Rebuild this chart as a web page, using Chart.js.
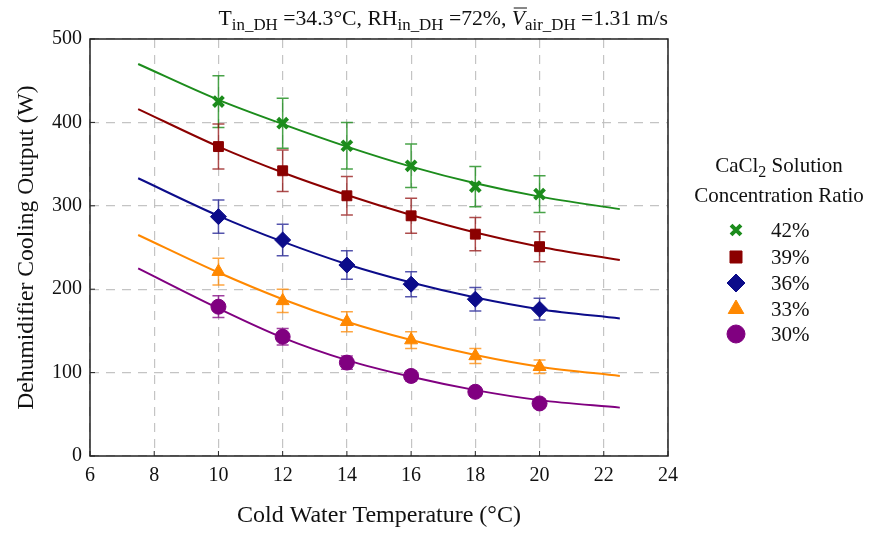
<!DOCTYPE html>
<html>
<head>
<meta charset="utf-8">
<script src="https://cdn.jsdelivr.net/npm/chart.js@4.4.1/dist/chart.umd.min.js"></script>
<style>
html,body{margin:0;padding:0;background:#fff;}
#wrap{width:873px;height:534px;}
</style>
</head>
<body>
<div id="wrap"><canvas id="c" width="873" height="534"></canvas></div>
<script>
// ---- data ----
const xValues = [10, 12, 14, 16, 18, 20];
const seriesLabels = ['42%', '39%', '36%', '33%', '30%'];
const output42 = [425, 399, 372, 348, 323, 314];
const output39 = [371, 342, 312, 288, 266, 251];
const output36 = [287, 259, 229, 206, 188, 176];
const output33 = [221, 186, 161, 139, 120, 107];
const output30 = [179, 143, 112, 96, 77, 63];
const err42 = [31, 30, 28, 26, 24, 22];
const err39 = [27, 25, 23, 21, 20, 18];
const err36 = [20, 19, 17, 15, 14, 13];
const err33 = [16, 14, 12, 10, 9, 8];
const err30 = [13, 10, 8, 6, 5, 5];
const fitX = [7.5, 10, 12, 14, 16, 18, 20, 22.5];
const fit42 = [470, 427, 398, 371, 347, 327, 311, 296];
const fit39 = [416, 371, 340, 313, 289, 268, 251, 235];
const fit36 = [333, 288, 257, 230, 208, 190, 176, 165];
const fit33 = [265, 220, 188, 161, 139, 121, 107, 96];
const fit30 = [225, 177, 142, 115, 95, 79, 67, 58];
const xTicks = [6, 8, 10, 12, 14, 16, 18, 20, 22, 24];
const yTicks = [0, 100, 200, 300, 400, 500];
const legendTitle1 = ['CaCl', '2', ' Solution'];
const legendTitle2 = 'Concentration Ratio';
const xTitle = 'Cold Water Temperature (°C)';
const yTitle = 'Dehumidifier Cooling Output (W)';

const colors = ['#1c8c1c', '#8b0000', '#0c0c8a', '#ff8800', '#800080'];
const errColors = ['rgba(28,140,28,0.8)', 'rgba(139,0,0,0.7)', 'rgba(12,12,138,0.7)', 'rgba(255,136,0,0.75)', 'rgba(128,0,128,0.75)'];
const markers = ['crossRot', 'rect', 'rectRot', 'triangle', 'circle'];
const outputs = [output42, output39, output36, output33, output30];
const errs = [err42, err39, err36, err33, err30];
const fits = [fit42, fit39, fit36, fit33, fit30];

const SERIF = '"Liberation Serif", "DejaVu Serif", serif';
const radiusOf = m => m === 'crossRot' ? 7 : (m === 'rect' ? 7 : (m === 'rectRot' ? 8 : 7.5));

const pts = (xs, ys) => xs.map((x, i) => ({x: x, y: ys[i]}));

const datasets = [];
outputs.forEach((ys, k) => {
  datasets.push({
    label: seriesLabels[k],
    data: pts(xValues, ys),
    showLine: false,
    pointStyle: markers[k],
    pointRadius: radiusOf(markers[k]),
    pointBackgroundColor: colors[k],
    pointBorderColor: colors[k],
    pointBorderWidth: markers[k] === 'crossRot' ? 4 : 1,
    order: 0
  });
});
fits.forEach((ys, k) => {
  datasets.push({
    label: 'fit ' + seriesLabels[k],
    data: pts(fitX, ys),
    showLine: true,
    pointRadius: 0,
    borderColor: colors[k],
    borderWidth: 2,
    cubicInterpolationMode: 'monotone',
    fill: false,
    order: 1
  });
});

const errorBars = {
  id: 'errorBars',
  beforeDatasetsDraw(chart) {
    const {ctx, scales: {x, y}} = chart;
    ctx.save();
    outputs.forEach((ys, k) => {
      ctx.strokeStyle = errColors[k];
      ctx.lineWidth = 1.5;
      xValues.forEach((xv, i) => {
        const px = x.getPixelForValue(xv);
        const top = y.getPixelForValue(ys[i] + errs[k][i]);
        const bot = y.getPixelForValue(ys[i] - errs[k][i]);
        ctx.beginPath();
        ctx.moveTo(px, top); ctx.lineTo(px, bot);
        ctx.moveTo(px - 6, top); ctx.lineTo(px + 6, top);
        ctx.moveTo(px - 6, bot); ctx.lineTo(px + 6, bot);
        ctx.stroke();
      });
    });
    ctx.restore();
  }
};

const frame = {
  id: 'frame',
  afterDraw(chart) {
    const {ctx, chartArea: a, scales: {x, y}} = chart;
    ctx.save();
    ctx.strokeStyle = '#222';
    ctx.lineWidth = 1.5;
    ctx.strokeRect(a.left, a.top, a.right - a.left, a.bottom - a.top);
    ctx.lineWidth = 1;
    ctx.beginPath();
    xTicks.forEach(v => { const p = x.getPixelForValue(v); ctx.moveTo(p, a.bottom); ctx.lineTo(p, a.bottom - 5); });
    yTicks.forEach(v => { const p = y.getPixelForValue(v); ctx.moveTo(a.left, p); ctx.lineTo(a.left + 5, p); });
    ctx.stroke();

    // top title with subscripts
    const size = 21.7;
    const segs = [
      {t: 'T'}, {t: 'in_DH', sub: true}, {t: ' =34.3°C, RH'}, {t: 'in_DH', sub: true},
      {t: ' =72%, '}, {t: 'V', it: true, bar: true}, {t: 'air_DH', sub: true}, {t: ' =1.31 m/s'}
    ];
    const fontOf = s => (s.it ? 'italic ' : '') + (s.sub ? (size * 0.78).toFixed(1) : size) + 'px ' + SERIF;
    let total = 0;
    segs.forEach(s => { ctx.font = fontOf(s); s.w = ctx.measureText(s.t).width; total += s.w; });
    let cx = 668 - total;
    const base = 25;
    ctx.fillStyle = '#111';
    ctx.strokeStyle = '#111';
    ctx.textBaseline = 'alphabetic';
    ctx.textAlign = 'left';
    segs.forEach(s => {
      ctx.font = fontOf(s);
      ctx.fillText(s.t, cx, s.sub ? base + 5 : base);
      if (s.bar) {
        ctx.lineWidth = 1;
        ctx.beginPath(); ctx.moveTo(cx + 2, base - 17); ctx.lineTo(cx + s.w + 2, base - 17); ctx.stroke();
      }
      cx += s.w;
    });

    // legend text
    const lsize = 21;
    const lx = 779;
    ctx.font = lsize + 'px ' + SERIF;
    const w1 = ctx.measureText(legendTitle1[0]).width;
    ctx.font = Math.round(lsize * 0.78) + 'px ' + SERIF;
    const w2 = ctx.measureText(legendTitle1[1]).width;
    ctx.font = lsize + 'px ' + SERIF;
    const w3 = ctx.measureText(legendTitle1[2]).width;
    const sx = lx - (w1 + w2 + w3) / 2;
    ctx.textBaseline = 'middle';
    ctx.fillText(legendTitle1[0], sx, 166);
    ctx.font = Math.round(lsize * 0.78) + 'px ' + SERIF;
    ctx.fillText(legendTitle1[1], sx + w1, 173);
    ctx.font = lsize + 'px ' + SERIF;
    ctx.fillText(legendTitle1[2], sx + w1 + w2, 166);
    ctx.textAlign = 'center';
    ctx.fillText(legendTitle2, lx, 196);
    const rows = [230, 257, 283, 309, 334];
    ctx.textAlign = 'left';
    seriesLabels.forEach((lab, k) => {
      ctx.fillText(lab, 771, rows[k] + 1);
    });
    // legend markers
    seriesLabels.forEach((lab, k) => {
      ctx.fillStyle = colors[k];
      ctx.strokeStyle = colors[k];
      const bw = markers[k] === 'crossRot' ? 4 : 1;
      ctx.lineWidth = bw;
      Chart.helpers.drawPoint(ctx, {
        pointStyle: markers[k], radius: markers[k] === 'crossRot' ? 7 : (markers[k] === 'rect' ? 8.5 : 9), rotation: 0,
        borderWidth: bw
      }, 736, rows[k]);
    });
    ctx.restore();
  }
};

new Chart(document.getElementById('c'), {
  type: 'scatter',
  data: {datasets: datasets},
  options: {
    responsive: false,
    animation: false,
    devicePixelRatio: 1,
    layout: {padding: {top: 39, right: 205, left: 0, bottom: 0}},
    plugins: {legend: {display: false}, tooltip: {enabled: false}, title: {display: false}},
    scales: {
      x: {
        type: 'linear', min: 6, max: 24,
        afterBuildTicks: s => { s.ticks = xTicks.map(v => ({value: v})); },
        afterFit: s => { s.height = 78; },
        grid: {color: 'rgba(190,190,190,0.9)', lineWidth: 1.2, drawTicks: false},
        border: {display: false, dash: [9, 7]},
        ticks: {font: {family: SERIF, size: 20}, color: '#111', padding: 8, maxRotation: 0},
        title: {display: true, text: xTitle, font: {family: SERIF, size: 24}, color: '#111', padding: {top: 16}}
      },
      y: {
        type: 'linear', min: 0, max: 500,
        afterBuildTicks: s => { s.ticks = yTicks.map(v => ({value: v})); },
        afterFit: s => { s.width = 90; },
        grid: {color: 'rgba(190,190,190,0.9)', lineWidth: 1.2, drawTicks: false},
        border: {display: false, dash: [9, 7]},
        ticks: {font: {family: SERIF, size: 20}, color: '#111', padding: 8},
        title: {display: true, text: yTitle, font: {family: SERIF, size: 23.6}, color: '#111', padding: {top: 13, bottom: 4}}
      }
    }
  },
  plugins: [errorBars, frame]
});
</script>
</body>
</html>
